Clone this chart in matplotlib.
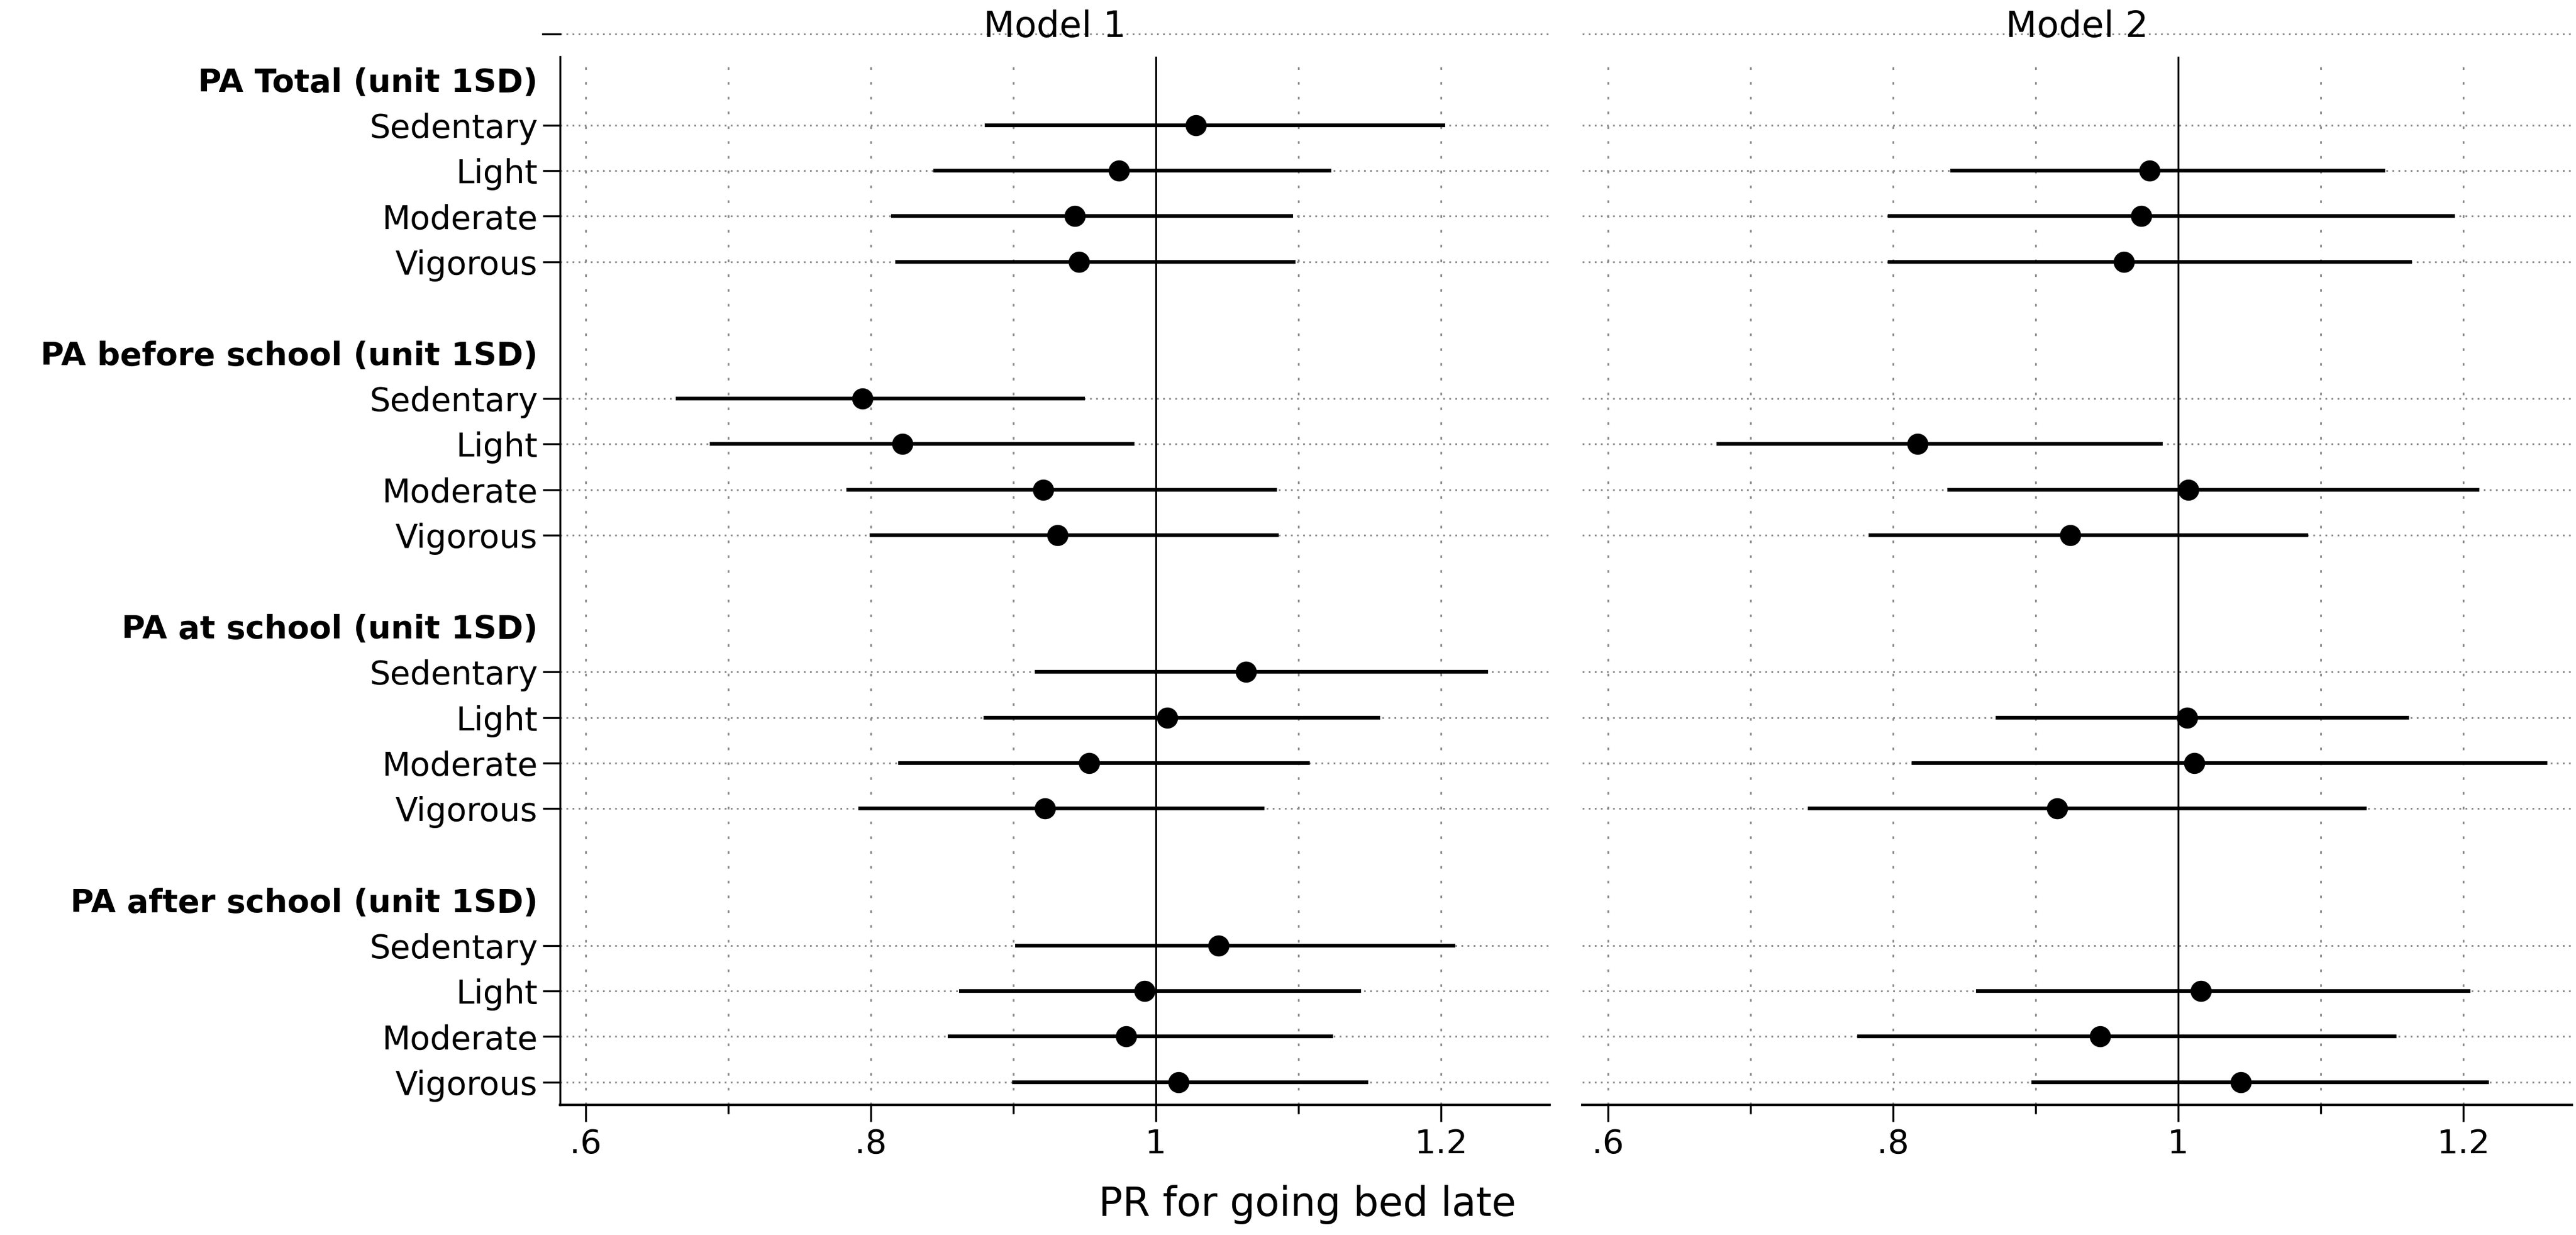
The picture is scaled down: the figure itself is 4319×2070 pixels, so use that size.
import numpy as np
import matplotlib
matplotlib.use("Agg")
import matplotlib.pyplot as plt
from matplotlib.transforms import blended_transform_factory

# groups / levels shown on the y axis
groups = ["PA Total (unit 1SD)", "PA before school (unit 1SD)",
          "PA at school (unit 1SD)", "PA after school (unit 1SD)"]
levels = ["Sedentary", "Light", "Moderate", "Vigorous"]

nan = np.nan
# Model 1: point estimate and 95% CI (PR)
m1_est = [1.028, 0.974, 0.943, 0.946, 0.794, 0.822, 0.921, 0.931,
          1.063, 1.008, 0.953, 0.922, 1.044, 0.992, 0.979, 1.016]
m1_lo = [0.880, 0.844, 0.814, 0.817, 0.663, 0.687, 0.783, 0.799,
         0.915, 0.879, 0.819, 0.791, 0.901, 0.862, 0.854, 0.899]
m1_hi = [1.203, 1.123, 1.096, 1.098, 0.950, 0.985, 1.085, 1.086,
         1.233, 1.157, 1.108, 1.076, 1.210, 1.144, 1.124, 1.149]
# Model 2 (sedentary not estimated)
m2_est = [nan, 0.980, 0.974, 0.962, nan, 0.817, 1.007, 0.924,
          nan, 1.006, 1.011, 0.915, nan, 1.016, 0.945, 1.044]
m2_lo = [nan, 0.840, 0.796, 0.796, nan, 0.676, 0.838, 0.783,
         nan, 0.872, 0.813, 0.740, nan, 0.858, 0.775, 0.897]
m2_hi = [nan, 1.145, 1.194, 1.164, nan, 0.989, 1.211, 1.091,
         nan, 1.162, 1.259, 1.132, nan, 1.205, 1.153, 1.218]

models = ["Model 1", "Model 2"]
major_ticks = [0.6, 0.8, 1.0, 1.2]
major_labels = [".6", ".8", "1", "1.2"]
minor_ticks = [0.7, 0.9, 1.1]

plt.rcParams['font.family'] = ['DejaVu Sans']

W, H = 4319, 2070
fig = plt.figure(figsize=(W / 300, H / 300), dpi=300)

# row positions: header, 4 levels, blank
header_rows = [6 * g for g in range(len(groups))]
item_rows = [6 * g + 1 + i for g in range(len(groups)) for i in range(len(levels))]
all_rows = sorted(header_rows + item_rows)

top_px, bot_px = 95, 1852
panels = [(939, 2598), (2653, 4312)]
data = [(m1_est, m1_lo, m1_hi), (m2_est, m2_lo, m2_hi)]
grid_kw = dict(color="#8a8a8a", lw=0.7)

for k, ((x0, x1), (est, lo, hi)) in enumerate(zip(panels, data)):
    ax = fig.add_axes([x0 / W, 1 - bot_px / H, (x1 - x0) / W, (bot_px - top_px) / H])
    ax.set_xlim(0.582, 1.276)
    ax.set_ylim(22.5, -0.5)

    # vertical grid
    for xv in major_ticks + minor_ticks:
        if xv != 1.0:
            ax.axvline(xv, ls=(0, (1.5, 7)), zorder=0, **grid_kw)
    # horizontal grid at item rows
    for r in item_rows:
        ax.axhline(r, ls=(0, (1, 2.5)), zorder=0, **grid_kw)
    # dotted line above the plot region
    ax.plot([0.582, 1.276], [-1, -1], ls=(0, (1, 2.5)), clip_on=False, **grid_kw)

    ax.axvline(1.0, color="black", lw=0.75, zorder=1)

    e = np.array(est)
    ok = ~np.isnan(e)
    rows = np.array(item_rows)
    ax.hlines(rows[ok], np.array(lo)[ok], np.array(hi)[ok], color="black", lw=1.5, zorder=2)
    ax.plot(e[ok], rows[ok], "o", color="black", ms=7.5, zorder=3)

    for s in ["top", "right"]:
        ax.spines[s].set_visible(False)
    ax.spines["bottom"].set_linewidth(1.0)
    ax.set_xticks(major_ticks)
    ax.set_xticklabels(major_labels, fontsize=13.5)
    ax.set_xticks(minor_ticks, minor=True)
    ax.tick_params(axis="x", which="major", length=6.8, width=0.8, pad=2.5)
    ax.tick_params(axis="x", which="minor", length=3.6, width=0.8)

    if k == 0:
        ax.spines["left"].set_linewidth(0.8)
        labels = []
        for r in all_rows:
            if r in header_rows:
                labels.append(groups[header_rows.index(r)])
            else:
                labels.append(levels[(r % 6) - 1])
        ax.set_yticks(all_rows)
        ax.set_yticklabels(labels, fontsize=13.2)
        ax.tick_params(axis="y", length=7, width=0.8, pad=2)
        for r, t, lab in zip(all_rows, ax.yaxis.get_major_ticks(), ax.get_yticklabels()):
            if r in header_rows:
                t.tick1line.set_visible(False)
                lab.set_fontweight("bold")
                lab.set_fontsize(12.9)
        trans = blended_transform_factory(ax.transAxes, ax.transData)
        ax.plot([-29 / (x1 - x0), 0], [-1, -1], color="black", lw=0.8,
                transform=trans, clip_on=False)
    else:
        ax.spines["left"].set_visible(False)
        ax.set_yticks([])

    fig.text(((x0 + x1) / 2) / W, 1 - 62 / H, models[k], ha="center", va="baseline",
             fontsize=14.5)

fig.text(2192 / W, 1 - 2038 / H, "PR for going bed late", ha="center", va="baseline",
         fontsize=16)

fig.savefig("out.png", dpi=300, facecolor="white")
